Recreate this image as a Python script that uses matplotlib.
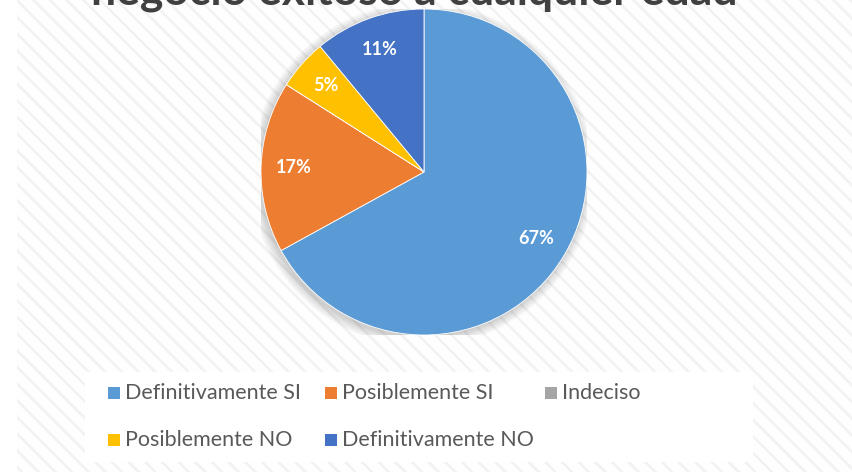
import matplotlib.pyplot as plt
from matplotlib.patches import Rectangle, Circle

# datos
categorias = ["Definitivamente SI", "Posiblemente SI", "Indeciso",
              "Posiblemente NO", "Definitivamente NO"]
porcentajes = [67, 17, 0, 5, 11]
colores = ["#5B9BD5", "#ED7D31", "#A5A5A5", "#FFC000", "#4472C4"]
titulo = "negocio exitoso a cualquier edad"

W, H = 853, 472
plt.rcParams['hatch.linewidth'] = 1.8
fig = plt.figure(figsize=(W / 100, H / 100), dpi=100)
fig.patch.set_facecolor("white")

# fondo rayado
fondo = Rectangle((17 / W, 0), 1 - 17 / W, 1, transform=fig.transFigure,
                  facecolor="#FEFEFE", edgecolor="#F2F2F2", hatch="\\\\",
                  linewidth=0, zorder=-2)
fig.patches.append(fondo)

# caja de la leyenda
caja = Rectangle((85 / W, 1 - 462 / H), (753 - 85) / W, 90 / H,
                 transform=fig.transFigure, facecolor="white",
                 edgecolor="none", zorder=-1)
fig.patches.append(caja)

# titulo (cortado arriba, como en el original)
fig.text(414 / W, 1 - 5 / H, titulo, ha="center", va="baseline",
         fontsize=32, fontweight="bold", color="#404040", family="Lato")

# pastel
cx, cy, r = 424, 172, 163
ax = fig.add_axes([(cx - r) / W, (H - cy - r) / H, 2 * r / W, 2 * r / H])
ax.set_facecolor("none")
ax.set_zorder(1)

# sombra suave
for k in range(8):
    ax.add_patch(Circle((-0.012, -0.015), 1.0 + 0.008 * k, facecolor="black",
                        alpha=0.022, edgecolor="none", zorder=0))

def etiqueta(p):
    return "" if p < 0.5 else "%d%%" % round(p)

wedges, textos, autotextos = ax.pie(
    porcentajes, colors=colores, startangle=90, counterclock=False,
    autopct=etiqueta, pctdistance=0.8,
    wedgeprops=dict(linewidth=0.6, edgecolor="white"),
    textprops=dict(color="white", fontsize=13, fontweight="bold", family="Lato"))
for w in wedges:
    w.set_zorder(2)
for t in autotextos:
    t.set_zorder(3)
ax.set_xlim(-1, 1)
ax.set_ylim(-1, 1)
ax.set_aspect("equal")
ax.axis("off")

# leyenda manual (3 columnas)
col_x = [108, 325, 545]
fila_y = [393, 440]
for i, (nombre, c) in enumerate(zip(categorias, colores)):
    x = col_x[i % 3]
    y = fila_y[i // 3]
    fig.patches.append(Rectangle((x / W, 1 - (y + 6) / H), 12 / W, 12 / H,
                                 transform=fig.transFigure, facecolor=c,
                                 edgecolor="none", zorder=0))
    fig.text((x + 17) / W, 1 - y / H, nombre, ha="left", va="center",
             fontsize=15.5, color="#595959", family="Lato")

fig.savefig("out.png", dpi=100)
